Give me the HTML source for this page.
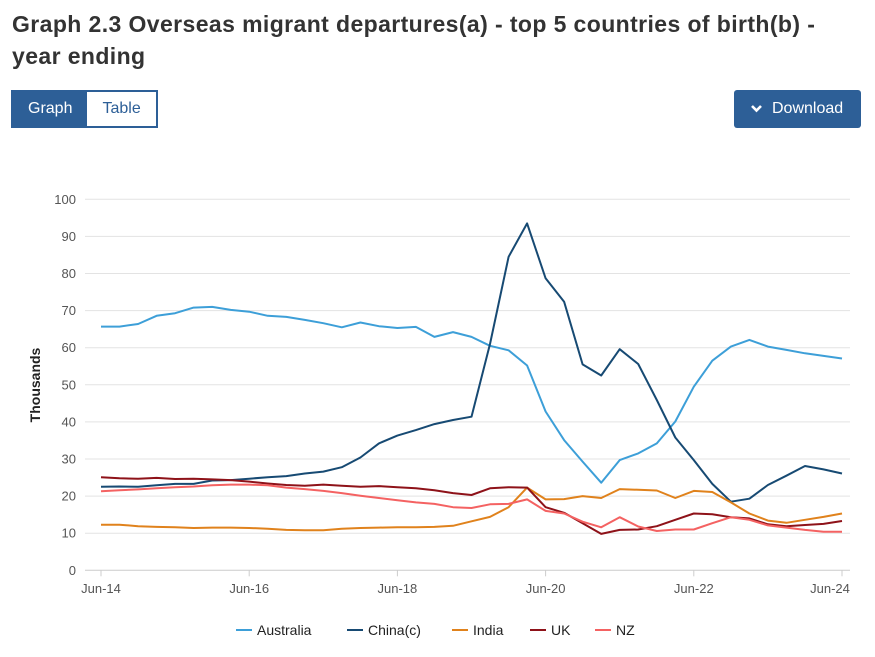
<!DOCTYPE html>
<html><head><meta charset="utf-8">
<style>
body{margin:0;width:875px;height:657px;background:#fff;font-family:"Liberation Sans",sans-serif;overflow:hidden;position:relative;color:#222}
h1{position:absolute;left:12px;top:8px;margin:0;font-size:23px;line-height:32px;font-weight:bold;color:#333;width:835px;letter-spacing:0.4px}
.tabs{position:absolute;left:11px;top:90px;height:38px;border:2px solid #2d5f97;display:flex;box-sizing:border-box}
.tab{font-size:16px;line-height:34px;padding:0 15px}
.tab.on{background:#2d5f97;color:#fff}
.tab.off{color:#2d5f97;background:#fff}
.dl{position:absolute;left:734px;top:90px;width:127px;height:38px;background:#2d5f97;color:#fff;border-radius:3px;font-size:16px;line-height:38px;box-sizing:border-box;padding-left:38px}
.dl svg{position:absolute;left:17px;top:14px}
</style></head><body>
<h1>Graph 2.3 Overseas migrant departures(a) - top 5 countries of birth(b) - year ending</h1>
<div class="tabs">
<div class="tab on">Graph</div>
<div class="tab off">Table</div>
</div>
<div class="dl"><svg width="11" height="9" viewBox="0 0 11 9"><path d="M1 2 L5.5 6.5 L10 2" stroke="#fff" stroke-width="2.6" fill="none"/></svg>Download</div>
<svg id="chart" width="875" height="657" style="position:absolute;left:0;top:0" xmlns="http://www.w3.org/2000/svg"></svg>
<script>
const xLabels=["Jun-14","Jun-16","Jun-18","Jun-20","Jun-22","Jun-24"];
const yTicks=[0,10,20,30,40,50,60,70,80,90,100];
const seriesNames=["Australia","China(c)","India","UK","NZ"];
const seriesColors=["#3d9fd8","#174a73","#e0821c","#8e1219","#f46262"];
const australia=[65.7,65.7,66.4,68.6,69.3,70.8,71.0,70.2,69.7,68.6,68.3,67.5,66.6,65.5,66.8,65.8,65.3,65.6,62.9,64.2,62.9,60.5,59.3,55.2,42.8,35.1,29.3,23.6,29.7,31.5,34.2,40.1,49.5,56.5,60.3,62.1,60.3,59.4,58.5,57.8,57.1];
const china=[22.5,22.6,22.5,22.9,23.3,23.3,24.2,24.3,24.7,25.1,25.4,26.1,26.6,27.8,30.4,34.2,36.3,37.8,39.4,40.5,41.4,61.0,84.5,93.5,78.7,72.4,55.5,52.5,59.6,55.6,45.9,35.8,29.7,23.3,18.5,19.3,23.0,25.5,28.1,27.2,26.1];
const india=[12.3,12.3,11.9,11.7,11.6,11.4,11.5,11.5,11.4,11.2,10.9,10.8,10.8,11.2,11.4,11.5,11.6,11.6,11.7,12.0,13.2,14.4,17.0,22.3,19.1,19.2,20.0,19.5,21.9,21.7,21.5,19.5,21.4,21.1,18.3,15.3,13.4,12.8,13.6,14.4,15.3];
const uk=[25.1,24.8,24.7,24.9,24.6,24.7,24.5,24.3,23.9,23.4,23.0,22.8,23.1,22.8,22.5,22.7,22.4,22.1,21.6,20.8,20.3,22.1,22.4,22.3,17.0,15.5,12.7,9.8,10.9,11.0,11.9,13.6,15.3,15.1,14.3,14.0,12.4,11.9,12.2,12.5,13.3];
const nz=[21.3,21.6,21.8,22.1,22.4,22.6,22.9,23.1,23.1,22.9,22.3,21.9,21.4,20.8,20.1,19.5,18.9,18.3,17.9,17.0,16.8,17.8,17.9,19.1,16.0,15.3,13.1,11.6,14.3,11.8,10.6,11.0,11.0,12.7,14.3,13.6,12.1,11.5,10.9,10.4,10.4];
const allSeries=[australia,china,india,uk,nz];

const svg=document.getElementById('chart');
const NS="http://www.w3.org/2000/svg";
const X0=101,X1=842,Y0=570.3,Y1=199.3,YMAX=100,NPTS=41;
function xs(i){return X0+(X1-X0)*i/(NPTS-1);}
function ys(v){return Y0-(Y0-Y1)*v/YMAX;}
function mk(t,a){const e=document.createElementNS(NS,t);for(const k in a)e.setAttribute(k,a[k]);svg.appendChild(e);return e;}
yTicks.forEach(v=>{
  const g=mk('line',{x1:85,x2:850,y1:ys(v),y2:ys(v),stroke:v===0?'#ccc':'#e3e3e3','stroke-width':1});
  
  
  const t=mk('text',{x:76,y:ys(v)+4.5,'text-anchor':'end','font-size':13,fill:'#555','font-family':'Liberation Sans, sans-serif'});
  t.textContent=v;
  
  
});
xLabels.forEach((l,k)=>{
  const i=k*8;
  let x=xs(i);
  const tk=mk('line',{x1:x,x2:x,y1:Y0,y2:Y0+6,stroke:'#ccc'});
  
  
  if(k===xLabels.length-1)x-=12;
  const t=mk('text',{x:x,y:593,'text-anchor':'middle','font-size':13,fill:'#555','font-family':'Liberation Sans, sans-serif'});
  t.textContent=l;
  
  
});
const yt=mk('text',{x:0,y:0,transform:'translate(40,385) rotate(-90)','text-anchor':'middle','font-size':14,'font-weight':'bold',fill:'#222','font-family':'Liberation Sans, sans-serif'});
yt.textContent='Thousands';


allSeries.forEach((s,si)=>{
  const d=s.map((v,i)=>(i?'L':'M')+xs(i).toFixed(1)+' '+ys(v).toFixed(1)).join(' ');
  const p=mk('path',{d:d,fill:'none',stroke:seriesColors[si],'stroke-width':2,'stroke-linejoin':'round'});
  
  
});
const legX=[236,347,452,530,595];
seriesNames.forEach((n,si)=>{
  const l=mk('line',{x1:legX[si],x2:legX[si]+16,y1:630,y2:630,stroke:seriesColors[si],'stroke-width':2});
  
  
  const t=mk('text',{x:legX[si]+21,y:635,'font-size':14,fill:'#222','font-family':'Liberation Sans, sans-serif'});
  t.textContent=n;
  
  
});
</script>
</body></html>
